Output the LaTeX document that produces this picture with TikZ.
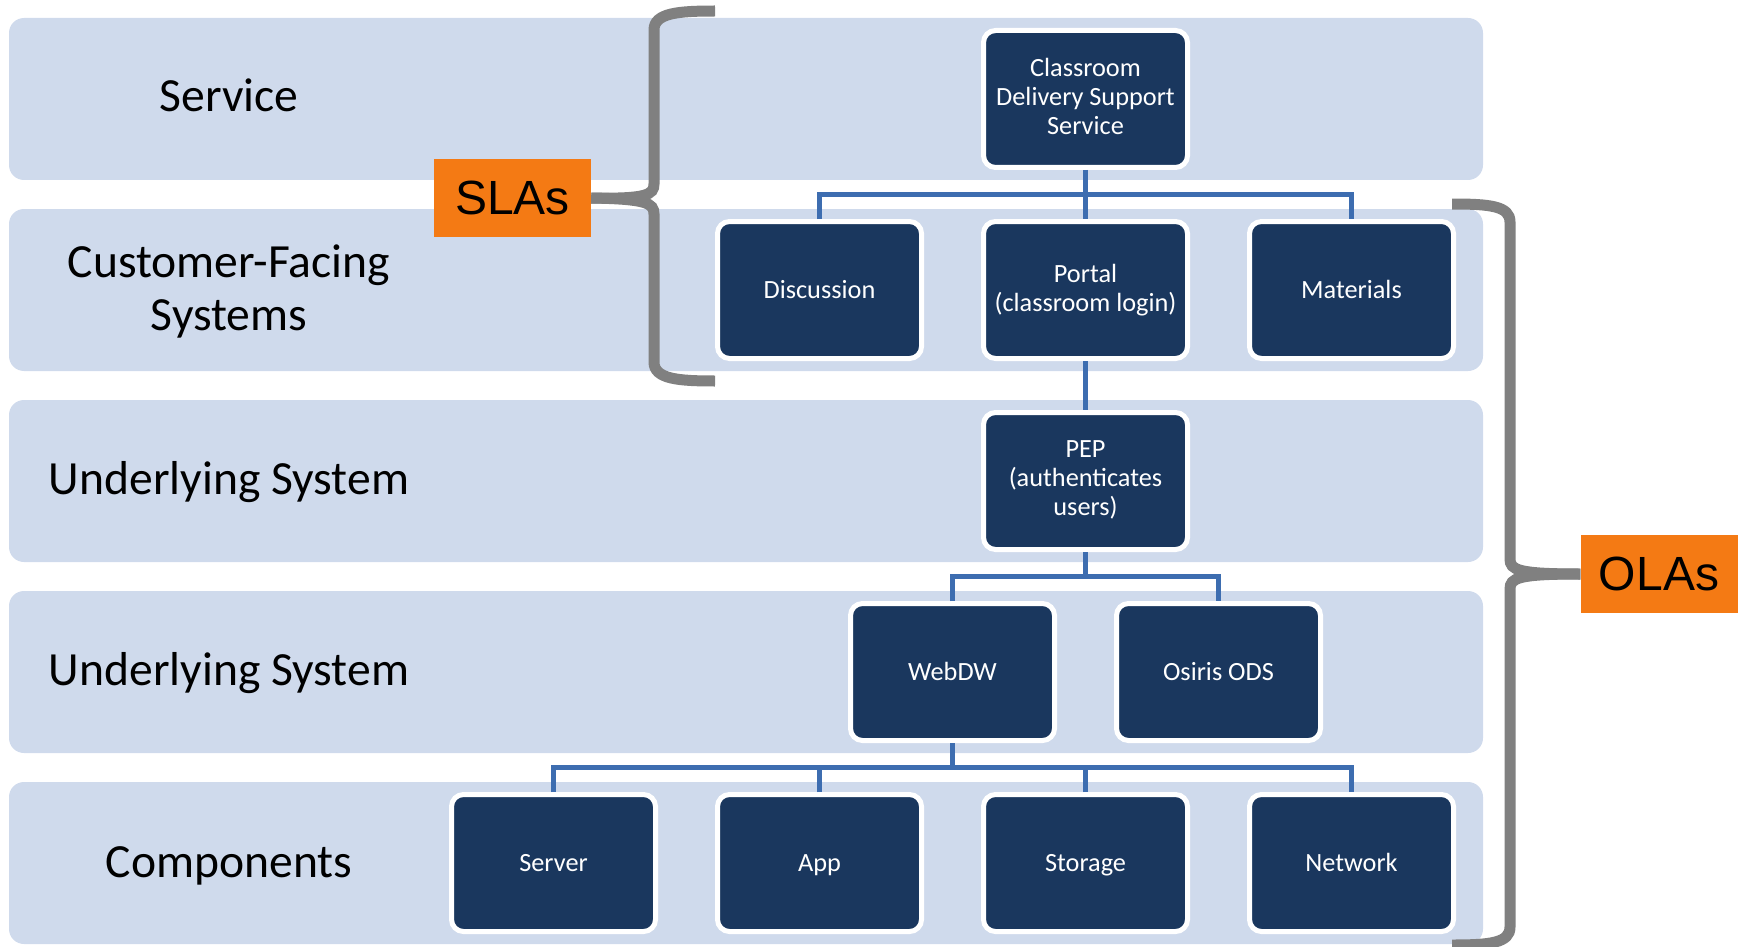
\documentclass[tikz,border=0pt]{standalone}
\usepackage{fontspec}
\setmainfont{Carlito}
\newfontfamily\arialfont{Liberation Sans}
\usetikzlibrary{calc}
\definecolor{bandfill}{HTML}{CFDAEC}
\definecolor{boxfill}{HTML}{1A375E}
\definecolor{linkblue}{HTML}{3D6DB0}
\definecolor{tagorange}{HTML}{F47A14}
\definecolor{bracegray}{HTML}{808080}
% fixed line heights so every label sits on the same optical centre
\newcommand\boxHiStrut{\rule{0pt}{22pt}}
\newcommand\boxTallStrut{\rule{0pt}{26pt}}
\newcommand\boxLoStrut{\rule[-5pt]{0pt}{5pt}}
\newcommand\bandHiStrut{\rule{0pt}{36pt}}
\newcommand\bandLoStrut{\rule[-8pt]{0pt}{8pt}}
\begin{document}
\begin{tikzpicture}[x=1pt,y=-1pt,
  band/.style={fill=bandfill, rounded corners=15pt},
  bandlabel/.style={font=\fontsize{47.6}{53}\selectfont, align=center, text=black,
    inner sep=0pt, execute at begin node=\bandHiStrut, execute at end node=\bandLoStrut},
  unit/.style={draw=white, line width=5pt, fill=boxfill, rounded corners=12pt,
    minimum width=204pt, minimum height=137pt, inner sep=0pt, text=white,
    align=center, font=\fontsize{26.3}{29}\selectfont,
    execute at begin node=\boxHiStrut, execute at end node=\boxLoStrut},
  multi/.style={execute at begin node=\boxTallStrut},
  conn/.style={draw=linkblue, line width=5pt},
  tag/.style={fill=tagorange, inner sep=0pt, minimum width=157pt, minimum height=78pt,
    font=\arialfont\fontsize{48}{56}\selectfont},
  brace/.style={draw=bracegray, line width=11pt}]
\useasboundingbox (0,0) rectangle (1741,947);

% layer bands
\foreach \yc in {99,290,481,672,863}
  \fill[band] (9,\yc-81) rectangle (1483,\yc+81);

% layer names
\node[bandlabel] (lService) at (229,98) {Service};
\node[bandlabel] (lCustomer) at (229,292) {Customer-Facing\\Systems};
\node[bandlabel] (lUnder1) at (229,481) {Underlying System};
\node[bandlabel] (lUnder2) at (229,672) {Underlying System};
\node[bandlabel] (lComp) at (229,863) {Components};

% boxes
\node[unit,multi] (cls)  at (1085.5,99)  {Classroom\\Delivery Support\\Service};
\node[unit] (disc) at (819.5,290)  {Discussion};
\node[unit,multi] (port) at (1085.5,290) {Portal\\(classroom login)};
\node[unit] (mat)  at (1351.5,290) {Materials};
\node[unit,multi] (pep)  at (1085.5,481) {PEP\\(authenticates\\users)};
\node[unit] (web)  at (952.5,672)  {WebDW};
\node[unit] (osi)  at (1218.5,672) {Osiris ODS};
\node[unit] (srv)  at (553.5,863)  {Server};
\node[unit] (app)  at (819.5,863)  {App};
\node[unit] (sto)  at (1085.5,863) {Storage};
\node[unit] (net)  at (1351.5,863) {Network};

% connectors
\coordinate (b1) at ($(cls.south)!.5!(port.north)$);
\draw[conn] (cls.south) -- (port.north);
\draw[conn] (disc.north) |- (b1) -| (mat.north);

\draw[conn] (port.south) -- (pep.north);

\coordinate (b2) at ($(pep.south)!.5!(web.north)$);
\draw[conn] (web.north) |- (b2) -| (osi.north);
\draw[conn] (pep.south) -- (pep.south |- b2);

\coordinate (b3) at ($(web.south)!.5!(srv.north)$);
\draw[conn] (srv.north) |- (b3) -| (net.north);
\draw[conn] (app.north) -- (app.north |- b3);
\draw[conn] (sto.north) -- (sto.north |- b3);
\draw[conn] (web.south) -- (web.south |- b3);

% agreement tags
\node[tag] (sla) at (512.5,198) {SLAs};
\node[tag] (ola) at (1659,574) {OLAs};

% braces
\draw[brace] (715,11) .. controls (678,11) and (654,13) .. (654,30)
  -- (654,184) .. controls (654,195) and (646,199) .. (sla.east);
\draw[brace] (715,381) .. controls (678,381) and (654,379) .. (654,362)
  -- (654,214) .. controls (654,203) and (646,199) .. (sla.east);
\draw[brace] (1452,204) .. controls (1490,204) and (1510,206) .. (1510,222)
  -- (1510,559) .. controls (1510,570) and (1518,574) .. (ola.west);
\draw[brace] (1452,945) .. controls (1490,945) and (1510,943) .. (1510,927)
  -- (1510,589) .. controls (1510,578) and (1518,574) .. (ola.west);
\end{tikzpicture}
\end{document}
